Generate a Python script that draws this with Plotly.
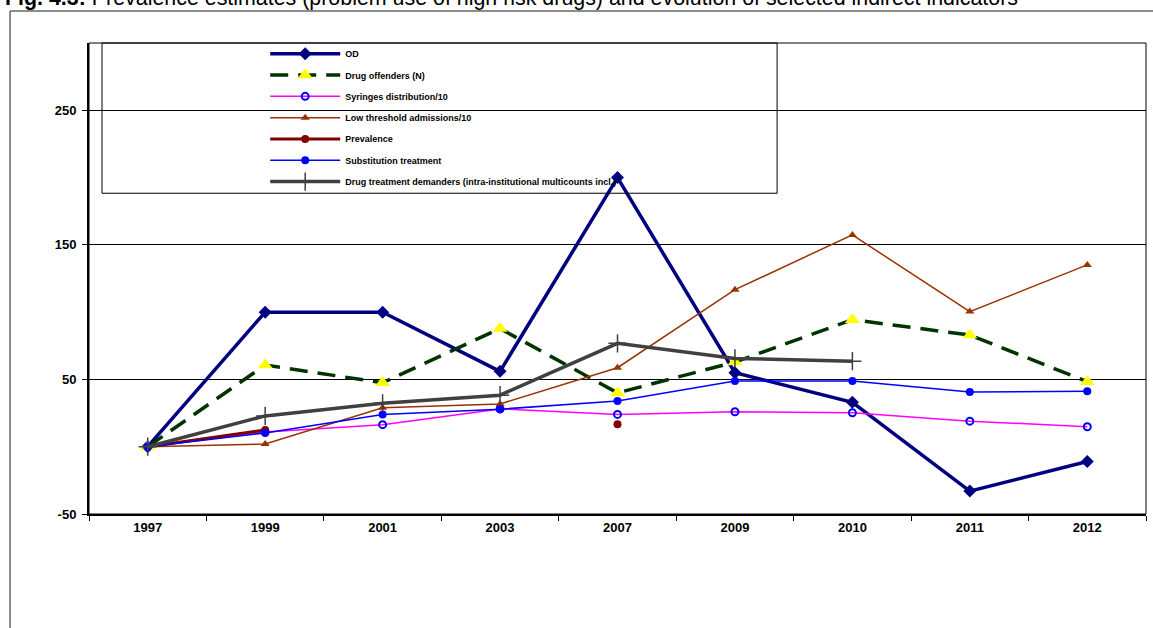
import plotly.graph_objects as go

# data (index, 1997 = 0)
years = ["1997", "1999", "2001", "2003", "2007", "2009", "2010", "2011", "2012"]

od = [0, 100, 100, 56, 200, 55, 33, -33, -11]
drug_offenders = [0, 60.7, 47.5, 87.8, 40, 62.9, 94.4, 83, 48.3]
syringes = [0, 11, 16.4, 28.1, 24, 26, 25.2, 19, 14.8]
low_threshold = [0, 2, 28.9, 31.8, 58.7, 116.7, 157.4, 100.4, 135.1]
prevalence = [0, 12.4, None, None, 16.7, None, None, None, None]
substitution = [0, 10.2, 23.9, 27.9, 33.9, 48.8, 48.8, 40.6, 41.3]
demanders = [0, 22.9, 32.3, 38.3, 76.8, 65.6, 63.6, None, None]

y_ticks = [-50, 50, 150, 250]
y_tick_labels = ["-50", "50", "150", "250"]

title_bold = "Fig. 4.3:"
title_rest = " Prevalence estimates (problem use of high risk drugs) and evolution of selected indirect indicators"

FONT = "Liberation Sans, Arial, sans-serif"

series = [
    # name, values, line colour, width, dash, marker symbol, marker size, marker colour, marker line
    ("OD", od, "#000080", 3.5, "solid", "diamond", 10, "#000080", None),
    ("Drug offenders (N)", drug_offenders, "#003300", 3.5, "18px,10px", "triangle-up", 13, "#FFFF00", None),
    ("Syringes distribution/10", syringes, "#FF00FF", 1.5, "solid", "circle-open", 7, "#0000FF", 2),
    ("Low threshold admissions/10", low_threshold, "#993300", 1.5, "solid", "triangle-up", 8, "#993300", None),
    ("Prevalence", prevalence, "#800000", 3, "solid", "circle", 8, "#800000", None),
    ("Substitution treatment", substitution, "#0000FF", 1.5, "solid", "circle", 8, "#0000FF", None),
    ("Drug treatment demanders (intra-institutional multicounts incl.)", demanders,
     "#404040", 3.5, "solid", "cross-thin", 13, "#404040", 1.5),
]

fig = go.Figure()

for name, vals, color, width, dash, sym, size, mcolor, mline in series:
    marker = dict(symbol=sym, size=size, color=mcolor)
    if mline is not None:
        marker["line"] = dict(color=mcolor, width=mline)
    fig.add_trace(go.Scatter(
        x=years, y=vals, name=name, legendgroup=name,
        mode="lines+markers",
        line=dict(color=color, width=width, dash=dash),
        marker=marker,
        connectgaps=False,
    ))

fig.update_layout(
    width=1153, height=628,
    margin=dict(l=89, r=7, t=43, b=114),
    paper_bgcolor="white", plot_bgcolor="white",
    font=dict(family=FONT, color="black"),
    showlegend=True,
    legend=dict(
        x=0.1667, y=1.008, xanchor="left", yanchor="top",
        bgcolor="rgba(0,0,0,0)", borderwidth=0,
        font=dict(size=9, family=FONT, weight="bold"),
        itemwidth=70, tracegroupgap=2.3,
    ),
    xaxis=dict(
        type="category", range=[-0.5, 8.5],
        showline=True, linecolor="black", linewidth=2,
        ticks="outside", tickson="boundaries", ticklen=5, tickcolor="black",
        showgrid=False, zeroline=False,
        tickfont=dict(size=13, family=FONT, weight="bold"),
    ),
    yaxis=dict(
        range=[-50, 300], tickvals=y_ticks, ticktext=y_tick_labels,
        showline=True, linecolor="black", linewidth=2,
        ticks="outside", ticklen=5, tickcolor="black",
        showgrid=True, gridcolor="black", gridwidth=1, zeroline=False,
        tickfont=dict(size=13, family=FONT, weight="bold"),
        ticklabelstandoff=3,
    ),
    shapes=[
        # plot area frame
        dict(type="rect", xref="paper", yref="paper", x0=0, x1=1, y0=0, y1=1,
             line=dict(color="black", width=1)),
        # legend box
        dict(type="rect", xref="paper", yref="paper", x0=0.0123, x1=0.651, y0=0.681, y1=1,
             line=dict(color="black", width=1)),
        # outer chart frame (left and top edges)
        dict(type="line", xref="paper", yref="paper", x0=-0.0747, x1=-0.0747, y0=1.068, y1=-0.3,
             line=dict(color="#666666", width=1.5)),
        dict(type="line", xref="paper", yref="paper", x0=-0.0747, x1=1.02, y0=1.068, y1=1.068,
             line=dict(color="#666666", width=1.5)),
    ],
    annotations=[
        dict(text="<b>" + title_bold + "</b>" + title_rest,
             xref="paper", yref="paper", x=-0.0814, y=1.0655,
             xanchor="left", yanchor="bottom", showarrow=False,
             font=dict(size=21.4, family=FONT, color="black")),
    ],
)

# page opens with the default 8px body margin; drop it so the chart sits at 0,0
fig.write_html("out.html", config={"displayModeBar": False},
               post_script="document.body.style.margin='0';")
